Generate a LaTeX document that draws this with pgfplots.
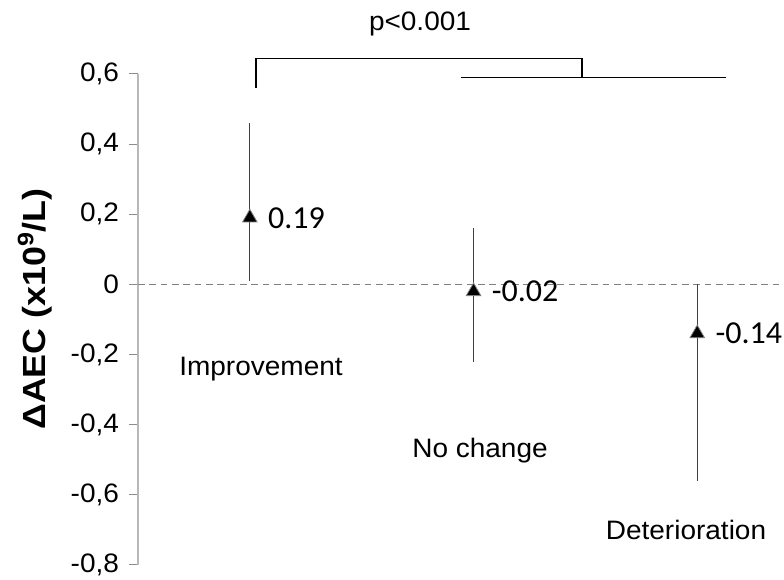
\documentclass[border=0pt]{standalone}
\usepackage{fontspec}
\setmainfont{Liberation Sans}[FakeStretch=1.05]
\newfontfamily\ylabfont{Liberation Sans}[FakeStretch=1.12]
\newfontfamily\carlito{Carlito}
\usepackage{pgfplots}
\pgfplotsset{compat=1.18}
\newcommand\arialsize{\fontsize{20pt}{23pt}\selectfont}
\begin{document}
\begin{tikzpicture}
\useasboundingbox (0,0) rectangle (588pt,435pt);
\begin{axis}[
  at={(103.5pt,11.25pt)}, anchor=south west,
  scale only axis, width=481.5pt, height=368.25pt,
  xmin=0.5, xmax=3.37, ymin=-0.8, ymax=0.6,
  enlargelimits=false,
  axis x line=none, axis y line*=left,
  axis line style={-, draw=black!28, line width=1.1pt},
  ytick={-0.8,-0.6,-0.4,-0.2,0,0.2,0.4,0.6},
  yticklabels={{-0,8},{-0,6},{-0,4},{-0,2},0,{0,2},{0,4},{0,6}},
  tick align=outside, major tick length=6.75pt,
  y tick style={draw=black!45, line width=0.75pt},
  yticklabel style={font=\arialsize, xshift=-4pt},
  clip=false,
]
\addplot[draw=black!50, dash pattern=on 5pt off 3.5pt, line width=0.8pt] coordinates {(0.5,0) (3.37,0)};
\addplot[only marks, mark=triangle*, mark size=6.3pt,
  mark options={fill=black, draw=black!50, line width=0.6pt},
  error bars/.cd, y dir=both, y explicit, error mark=none,
  error bar style={draw=black!75, line width=0.75pt}] coordinates {
 (1,0.19) += (0,0.27) -= (0,0.18)
 (2,-0.02) += (0,0.18) -= (0,0.20)
 (3,-0.14) += (0,0.14) -= (0,0.42)
};
\node[anchor=west, inner sep=0pt, xshift=13.5pt, font=\carlito\fontsize{24pt}{28pt}\selectfont] at (axis cs:1,0.19) {0.19};
\node[anchor=west, inner sep=0pt, xshift=13.5pt, font=\carlito\fontsize{24pt}{28pt}\selectfont] at (axis cs:2,-0.02) {-0.02};
\node[anchor=west, inner sep=0pt, xshift=13.5pt, font=\carlito\fontsize{24pt}{28pt}\selectfont] at (axis cs:3,-0.14) {-0.14};
\end{axis}
\begin{scope}[x=0.75pt,y=-0.75pt,yshift=435pt]
  \node[rotate=90, font=\ylabfont\bfseries\fontsize{24pt}{28pt}\selectfont, inner sep=0pt] at (35,309) {ΔAEC (x10\textsuperscript{9}/L)};
  \node[anchor=base, inner sep=0pt, font=\arialsize] at (261,376) {Improvement};
  \node[anchor=base, inner sep=0pt, font=\arialsize] at (480,458) {No change};
  \node[anchor=base, inner sep=0pt, font=\arialsize] at (686,540) {Deterioration};
  \node[anchor=base, inner sep=0pt, font=\arialsize] at (420,31) {p<0.001};
  \draw[black, line width=1.1pt] (256,88) -- (256,58.5) -- (582,58.5) -- (582,77.5);
  \draw[black, line width=1.1pt] (461,77.5) -- (726,77.5);
\end{scope}
\end{tikzpicture}
\end{document}
